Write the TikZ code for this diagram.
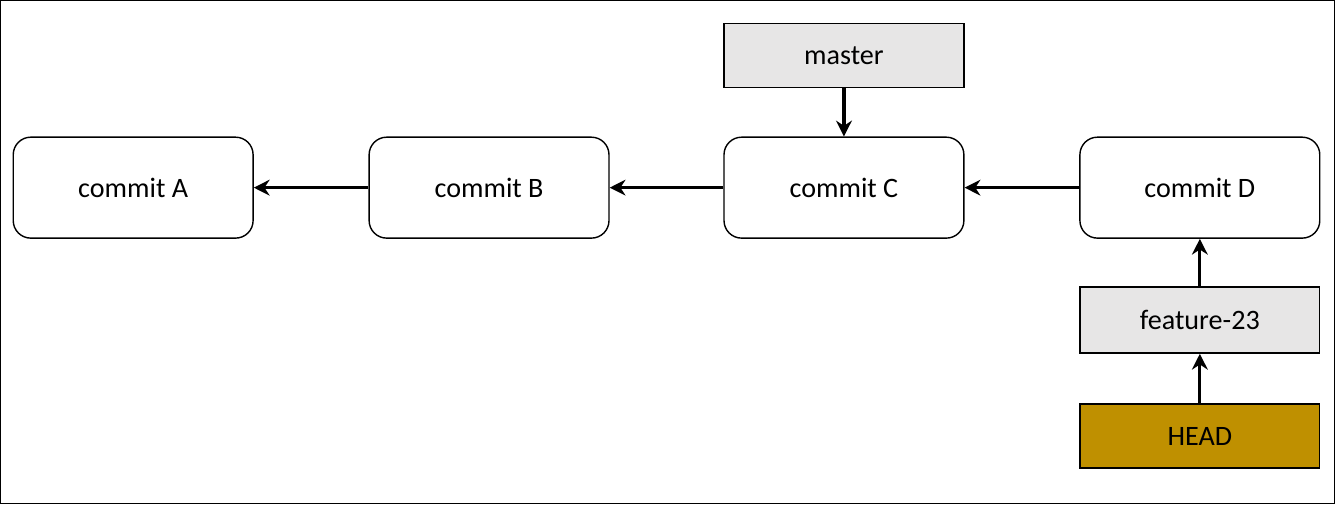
\documentclass[tikz,border=0pt]{standalone}
\usepackage{fontspec}
\setmainfont{Carlito}
\usetikzlibrary{arrows.meta}
\definecolor{headgold}{HTML}{BF9000}
\definecolor{refgray}{HTML}{E7E6E6}
\begin{document}
\begin{tikzpicture}[x=0.02cm,y=-0.02cm,
    commit/.style={draw, rounded corners=10pt, minimum width=4.8cm, minimum height=2.02cm, font=\fontsize{16}{19}\selectfont, line width=0.8pt},
    ref/.style={draw, fill=refgray, minimum width=4.8cm, minimum height=1.28cm, font=\fontsize{16}{19}\selectfont, line width=0.8pt},
    link/.style={-{Stealth[length=9pt,width=9pt]}, line width=1.8pt}]
    \draw[line width=0.8pt] (0.5,0.5) rectangle (1334.5,503.5);
    % commits
    \node[commit] (A) at (133,187.5) {commit A};
    \node[commit] (B) at (489,187.5) {commit B};
    \node[commit] (C) at (844,187.5) {commit C};
    \node[commit] (D) at (1200,187.5) {commit D};
    % refs
    \node[ref] (master) at (844,55.5) {master};
    \node[ref, minimum height=1.32cm] (feature) at (1200,320) {feature-23};
    \node[ref, fill=headgold] (head) at (1200,436) {HEAD};
    % arrows
    \draw[link] (B) -- (A);
    \draw[link] (C) -- (B);
    \draw[link] (D) -- (C);
    \draw[link] (master) -- (C);
    \draw[link] (feature) -- (D);
    \draw[link] (head) -- (feature);
\end{tikzpicture}
\end{document}
